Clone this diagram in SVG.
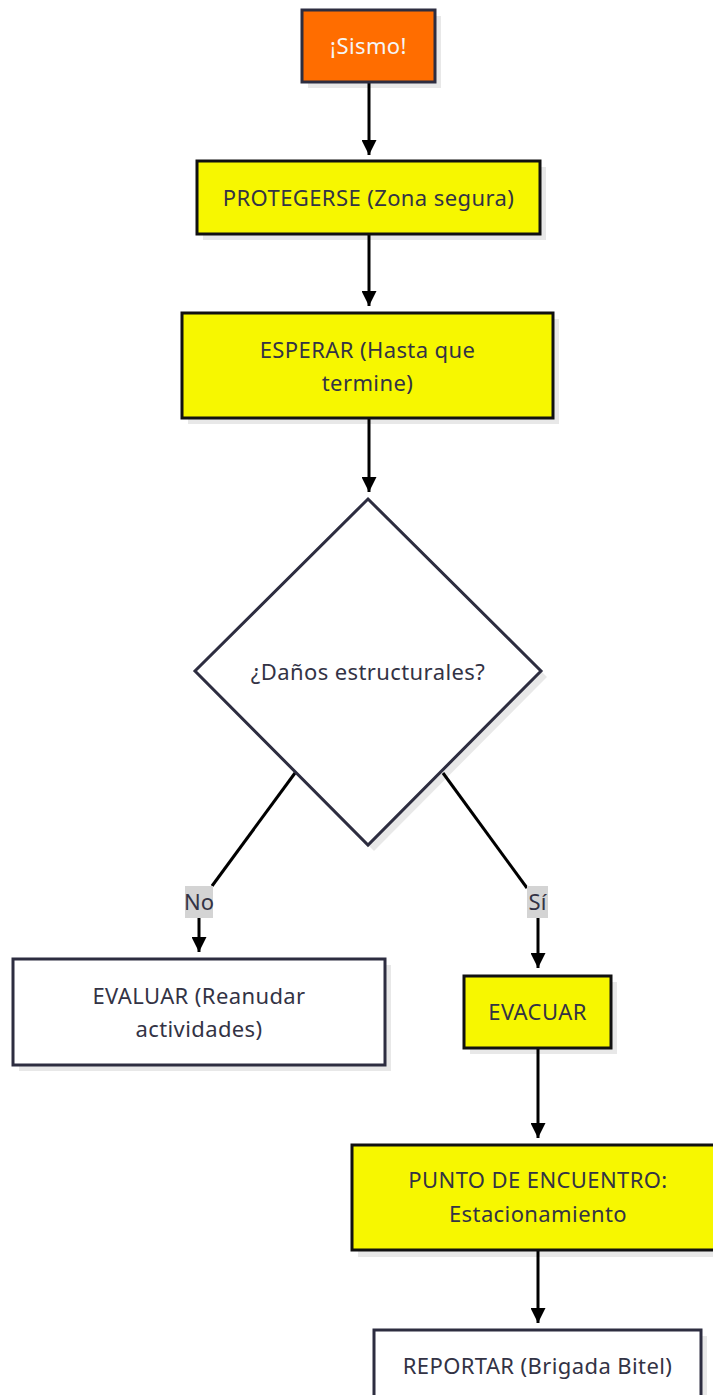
<svg xmlns="http://www.w3.org/2000/svg" width="713" height="1395" viewBox="0 0 713 1395">
<defs>
<marker id="arr" viewBox="0 0 10 10" refX="10" refY="5" markerWidth="5" markerHeight="5" markerUnits="strokeWidth" orient="auto">
<path d="M0,0 L10,5 L0,10 z" fill="#000"/>
</marker>
</defs>
<style>
.shadow{fill:#000;opacity:0.09}
.yellow{fill:#F7F700;stroke:#111;stroke-width:3}
.white{fill:#fff;stroke:#2d2d40;stroke-width:3}
.orange{fill:#FF6D00;stroke:#2d2d40;stroke-width:3}
.t{font-family:"Noto Sans","Open Sans",sans-serif;font-size:22px;letter-spacing:0.4px;fill:#333345;text-anchor:middle;dominant-baseline:central}
.tw{fill:#f5f5f5}
.edge{fill:none;stroke:#000;stroke-width:3}
.lbl{fill:#d4d4d4}
</style>
<rect width="713" height="1395" fill="#fff"/>
<g id="connectors">
<line class="edge" x1="369" y1="82" x2="369" y2="155" marker-end="url(#arr)"/>
<line class="edge" x1="369" y1="234" x2="369" y2="306" marker-end="url(#arr)"/>
<line class="edge" x1="369" y1="418" x2="369" y2="492" marker-end="url(#arr)"/>
<line class="edge" x1="295" y1="773" x2="212" y2="886"/>
<line class="edge" x1="199" y1="918" x2="199" y2="952" marker-end="url(#arr)"/>
<line class="edge" x1="443" y1="773" x2="527" y2="888"/>
<line class="edge" x1="538" y1="918" x2="538" y2="968" marker-end="url(#arr)"/>
<line class="edge" x1="538" y1="1048" x2="538" y2="1138" marker-end="url(#arr)"/>
<line class="edge" x1="538" y1="1250" x2="538" y2="1323" marker-end="url(#arr)"/>
<g id="label-no">
<rect class="lbl" x="185" y="886" width="28" height="32"/>
<text class="t" x="199" y="901" style="letter-spacing:0">No</text>
</g>
<g id="label-si">
<rect class="lbl" x="527" y="886" width="21" height="32"/>
<text class="t" x="537.5" y="901" style="letter-spacing:0">Sí</text>
</g>
</g>
<g id="sismo">
<rect class="shadow" x="308" y="16" width="133" height="72"/>
<rect class="orange" x="302" y="10" width="133" height="72"/>
<text class="t tw" x="368.5" y="45">¡Sismo!</text>
</g>
<g id="protegerse">
<rect class="shadow" x="203" y="167" width="343" height="73"/>
<rect class="yellow" x="197" y="161" width="343" height="73"/>
<text class="t" x="368.5" y="196.5">PROTEGERSE (Zona segura)</text>
</g>
<g id="esperar">
<rect class="shadow" x="188" y="319" width="371" height="105"/>
<rect class="yellow" x="182" y="313" width="371" height="105"/>
<text class="t" x="367.5" y="349">ESPERAR (Hasta que</text>
<text class="t" x="367.5" y="382">termine)</text>
</g>
<g id="danos">
<polygon class="shadow" points="374,505 547,677 374,851 201,677"/>
<polygon class="white" points="368,499 541,671 368,845 195,671"/>
<text class="t" x="368" y="671">¿Daños estructurales?</text>
</g>
<g id="evaluar">
<rect class="shadow" x="19" y="965" width="372" height="106"/>
<rect class="white" x="13" y="959" width="372" height="106"/>
<text class="t" x="199" y="995">EVALUAR (Reanudar</text>
<text class="t" x="199" y="1028">actividades)</text>
</g>
<g id="evacuar">
<rect class="shadow" x="470" y="982" width="147" height="72"/>
<rect class="yellow" x="464" y="976" width="147" height="72"/>
<text class="t" x="537.5" y="1011">EVACUAR</text>
</g>
<g id="punto">
<rect class="shadow" x="358" y="1151" width="372" height="106"/>
<rect class="yellow" x="352" y="1145" width="372" height="105"/>
<text class="t" x="538" y="1179">PUNTO DE ENCUENTRO:</text>
<text class="t" x="538" y="1213">Estacionamiento</text>
</g>
<g id="reportar">
<rect class="shadow" x="380" y="1336" width="327" height="72"/>
<rect class="white" x="374" y="1330" width="327" height="72"/>
<text class="t" x="537.5" y="1365">REPORTAR (Brigada Bitel)</text>
</g>
</svg>
